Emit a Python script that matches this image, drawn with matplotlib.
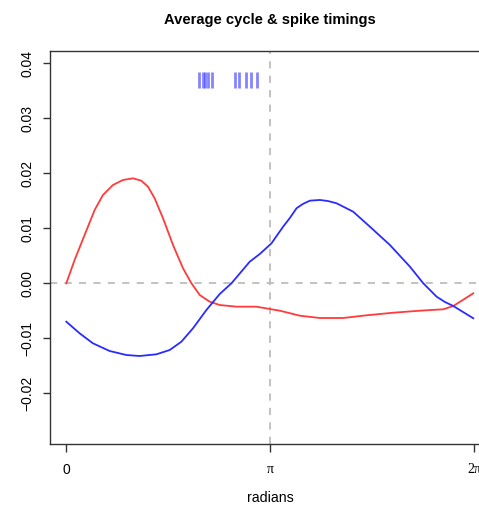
import numpy as np
import matplotlib
matplotlib.use("Agg")
import matplotlib.pyplot as plt

PI = np.pi

# Red curve (radians, value)
red_t = [0.0, 0.128, 0.282, 0.437, 0.565, 0.719, 0.873, 1.028, 1.157, 1.259,
         1.362, 1.491, 1.645, 1.799, 1.929, 2.057, 2.211, 2.365, 2.623, 2.932,
         2.983, 3.291, 3.600, 3.908, 4.268, 4.629, 5.039, 5.452, 5.811, 5.965,
         6.100, 6.274]
red_v = [0.0, 0.00424, 0.00878, 0.01333, 0.01605, 0.01787, 0.01878, 0.01909,
         0.01865, 0.01756, 0.01545, 0.01182, 0.00696, 0.00273, 0.0, -0.00213,
         -0.00335, -0.00395, -0.00425, -0.00425, -0.00436, -0.00498, -0.00589,
         -0.00631, -0.00631, -0.00582, -0.00535, -0.00498, -0.00473, -0.00413,
         -0.00313, -0.00182]

# Blue curve
blue_t = [0.0, 0.205, 0.410, 0.668, 0.926, 1.131, 1.389, 1.594, 1.774, 1.953,
          2.160, 2.365, 2.546, 2.828, 2.983, 3.163, 3.342, 3.446, 3.549, 3.646,
          3.754, 3.908, 4.032, 4.166, 4.422, 4.680, 4.989, 5.297, 5.503, 5.709,
          5.837, 5.965, 6.274]
blue_v = [-0.00698, -0.00909, -0.01091, -0.01231, -0.01304, -0.01322, -0.01291,
          -0.01213, -0.01062, -0.00818, -0.00485, -0.00195, 0.0, 0.00393, 0.00533,
          0.00727, 0.01029, 0.01187, 0.01364, 0.01442, 0.01502, 0.01515, 0.01496,
          0.01455, 0.01302, 0.01029, 0.00696, 0.00302, 0.0, -0.00244, -0.0034,
          -0.00413, -0.00636]

# Spike timings (radians)
spikes = [2.049, 2.103, 2.142, 2.180, 2.242, 2.605, 2.666, 2.767, 2.852, 2.944]
spike_lo, spike_hi = 0.03556, 0.0385

yticks = [-0.02, -0.01, 0.00, 0.01, 0.02, 0.03, 0.04]
ytick_labels = ["\u22120.02", "\u22120.01", "0.00", "0.01", "0.02", "0.03", "0.04"]
xticks = [0, PI, 2 * PI]
xtick_labels = ["0", "\u03c0", "2\u03c0"]

W, H = 479, 505
fig = plt.figure(figsize=(W / 100, H / 100), dpi=100)
left, right, top, bottom = 50, 490.2, 50.7, 444
ax = fig.add_axes([left / W, (H - bottom) / H, (right - left) / W, (bottom - top) / H])

ax.set_xlim(-0.08 * PI, 2.08 * PI)
ax.set_ylim(-0.02922, 0.04229)

ax.axhline(0, color="#bdbdbd", lw=1.3, ls=(0, (4, 4)), zorder=1)
ax.axvline(PI, color="#bdbdbd", lw=1.3, ls=(0, (4, 4)), zorder=1)

ax.plot(red_t, red_v, color="#ff3b3b", lw=1.3, zorder=3)
ax.plot(blue_t, blue_v, color="#2b2bff", lw=1.3, zorder=3)
ax.vlines(spikes, spike_lo, spike_hi, color="#3333ff", alpha=0.6, lw=2.0, zorder=2)

for s in ax.spines.values():
    s.set_linewidth(1.0)
    s.set_color("#333333")

ax.set_yticks(yticks)
ax.set_yticklabels(ytick_labels, rotation=90, va="center", family="Liberation Sans", fontsize=10)
ax.set_xticks(xticks)
ax.set_xticklabels(xtick_labels, family="Liberation Sans", fontsize=10)
for lab in ax.get_xticklabels()[1:]:
    lab.set_family("Liberation Serif")
ax.tick_params(axis="y", length=5, width=1.0, pad=6, color="#333333")
ax.tick_params(axis="x", length=5.5, width=1.0, pad=8, color="#333333")

fig.text(270 / W, 1 - 20 / H, "Average cycle & spike timings", ha="center", va="center",
         family="Liberation Sans", fontweight="bold", fontsize=10.6)
fig.text(270 / W, 1 - 498 / H, "radians", ha="center", va="center",
         family="Liberation Sans", fontsize=10.2)

fig.savefig("out.png", dpi=100)
